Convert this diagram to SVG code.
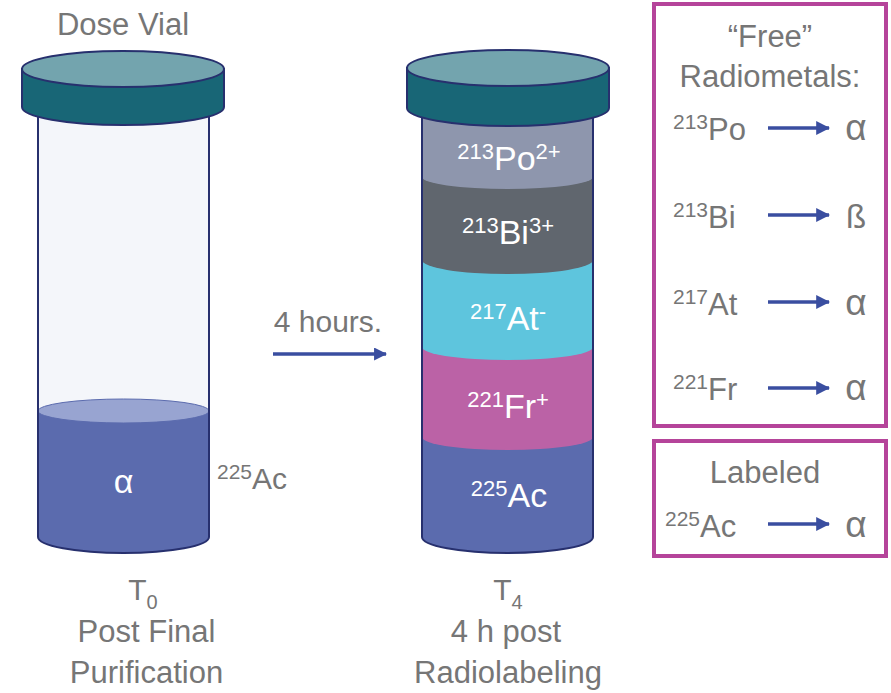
<svg xmlns="http://www.w3.org/2000/svg" width="891" height="693" viewBox="0 0 891 693">
  <defs>
    <style>
      .lbl { font-family: "Liberation Sans", Arial, sans-serif; fill: #767676; }
      .wht { font-family: "Liberation Sans", Arial, sans-serif; fill: #ffffff; }
      .edge { fill: none; stroke: #27306e; stroke-width: 2; }
      .capband { fill: #186676; stroke: #27306e; stroke-width: 2; }
      .captop { fill: #73a4ae; stroke: #27306e; stroke-width: 2; }
      .box { fill: #ffffff; stroke: #b5449a; stroke-width: 4; }
      .arr { stroke: #3a4ea0; stroke-width: 3.5; fill: none; }
    </style>
    <marker id="head" viewBox="0 0 12 12" refX="11" refY="6" markerWidth="13" markerHeight="13" markerUnits="userSpaceOnUse" orient="auto">
      <path d="M0,0 L12,6 L0,12 Z" fill="#3a4ea0"/>
    </marker>
    <marker id="headS" viewBox="0 0 12 12" refX="11" refY="6" markerWidth="14" markerHeight="14" markerUnits="userSpaceOnUse" orient="auto">
      <path d="M0,0 L12,6 L0,12 Z" fill="#3a4ea0"/>
    </marker>
  </defs>

  <rect width="891" height="693" fill="#ffffff"/>

  <!-- T0 vial -->
  <g id="vial-t0">
    <text class="lbl" x="123" y="35" font-size="31" text-anchor="middle">Dose Vial</text>
    <path d="M38,100 L38,537 A85.5,16 0 0 0 209,537 L209,100 Z" fill="#f4f6fa"/>
    <path d="M38,411 L38,537 A85.5,16 0 0 0 209,537 L209,411 Z" fill="#5b6bae"/>
    <ellipse cx="123.5" cy="411" rx="85.5" ry="12" fill="#98a4d1" stroke="#5b6bae" stroke-width="1"/>
    <path class="edge" d="M38,100 L38,537 A85.5,16 0 0 0 209,537 L209,100"/>
    <path class="capband" d="M22,69 L22,107 A101,18 0 0 0 224,107 L224,69 Z"/>
    <ellipse class="captop" cx="123" cy="69" rx="101" ry="18"/>
    <text class="wht" x="123.5" y="493" font-size="34" text-anchor="middle">α</text>
    <text class="lbl" x="217" y="489" font-size="30"><tspan font-size="21" dy="-10">225</tspan><tspan dy="10">Ac</tspan></text>
    <text class="lbl" x="143" y="600" font-size="30" text-anchor="middle">T<tspan font-size="20" dy="9">0</tspan></text>
    <text class="lbl" x="146.5" y="642" font-size="31" text-anchor="middle">Post Final</text>
    <text class="lbl" x="146.5" y="683" font-size="31" text-anchor="middle">Purification</text>
  </g>

  <!-- T4 vial with decay layers -->
  <g id="vial-t4">
    <path d="M422,437 L422,537 A85.5,16 0 0 0 593,537 L593,437 Z" fill="#5b6bae"/>
    <path d="M422,347 L422,437 A85.5,13 0 0 0 593,437 L593,347 Z" fill="#bb62a6"/>
    <path d="M422,260 L422,347 A85.5,13 0 0 0 593,347 L593,260 Z" fill="#5ec5dd"/>
    <path d="M422,177 L422,260 A85.5,14 0 0 0 593,260 L593,177 Z" fill="#60666e"/>
    <path d="M422,100 L422,177 A85.5,12 0 0 0 593,177 L593,100 Z" fill="#8e96ad"/>
    <path class="edge" d="M422,100 L422,537 A85.5,16 0 0 0 593,537 L593,100"/>
    <path class="capband" d="M407,68 L407,108 A101,18 0 0 0 609,108 L609,68 Z"/>
    <ellipse class="captop" cx="508" cy="68" rx="101" ry="18"/>
    <text class="wht" x="509" y="170" font-size="34" text-anchor="middle"><tspan font-size="22" dy="-11">213</tspan><tspan dy="11">Po</tspan><tspan font-size="22" dy="-11">2+</tspan></text>
    <text class="wht" x="508" y="244" font-size="34" text-anchor="middle"><tspan font-size="22" dy="-11">213</tspan><tspan dy="11">Bi</tspan><tspan font-size="22" dy="-11">3+</tspan></text>
    <text class="wht" x="508" y="330" font-size="34" text-anchor="middle"><tspan font-size="22" dy="-11">217</tspan><tspan dy="11">At</tspan><tspan font-size="22" dy="-11">-</tspan></text>
    <text class="wht" x="508" y="418" font-size="34" text-anchor="middle"><tspan font-size="22" dy="-11">221</tspan><tspan dy="11">Fr</tspan><tspan font-size="22" dy="-11">+</tspan></text>
    <text class="wht" x="509" y="507" font-size="34" text-anchor="middle"><tspan font-size="22" dy="-11">225</tspan><tspan dy="11">Ac</tspan></text>
    <text class="lbl" x="508" y="600" font-size="30" text-anchor="middle">T<tspan font-size="20" dy="9">4</tspan></text>
    <text class="lbl" x="506" y="642" font-size="31" text-anchor="middle">4 h post</text>
    <text class="lbl" x="508" y="683" font-size="31" text-anchor="middle">Radiolabeling</text>
  </g>

  <!-- "Free" radiometals legend -->
  <g id="free-box">
    <rect class="box" x="654" y="4" width="232" height="422"/>
    <text class="lbl" x="770" y="47" font-size="31" text-anchor="middle">“Free”</text>
    <text class="lbl" x="770" y="87" font-size="31" text-anchor="middle">Radiometals:</text>
    <text class="lbl" x="673" y="140" font-size="31"><tspan font-size="21" dy="-11">213</tspan><tspan dy="11">Po</tspan></text>
    <text class="lbl" x="673" y="228" font-size="31"><tspan font-size="21" dy="-11">213</tspan><tspan dy="11">Bi</tspan></text>
    <text class="lbl" x="673" y="315" font-size="31"><tspan font-size="21" dy="-11">217</tspan><tspan dy="11">At</tspan></text>
    <text class="lbl" x="673" y="400" font-size="31"><tspan font-size="21" dy="-11">221</tspan><tspan dy="11">Fr</tspan></text>
    <text class="lbl" x="856" y="140" font-size="37" text-anchor="middle">α</text>
    <text class="lbl" x="856" y="228" font-size="33" text-anchor="middle">ß</text>
    <text class="lbl" x="856" y="315" font-size="37" text-anchor="middle">α</text>
    <text class="lbl" x="856" y="400" font-size="37" text-anchor="middle">α</text>
  </g>

  <!-- Labeled legend -->
  <g id="labeled-box">
    <rect class="box" x="654" y="441" width="232" height="115"/>
    <text class="lbl" x="765" y="483" font-size="31" text-anchor="middle">Labeled</text>
    <text class="lbl" x="665" y="537" font-size="31"><tspan font-size="21" dy="-11">225</tspan><tspan dy="11">Ac</tspan></text>
    <text class="lbl" x="856" y="537" font-size="37" text-anchor="middle">α</text>
  </g>

  <!-- time step label -->
  <g id="time-label">
    <text class="lbl" x="328" y="332" font-size="30" text-anchor="middle">4 hours.</text>
  </g>

  <!-- connectors -->
  <g id="connectors">
    <line class="arr" x1="273" y1="354" x2="386" y2="354" marker-end="url(#head)"/>
    <line class="arr" x1="768" y1="128" x2="829" y2="128" marker-end="url(#headS)"/>
    <line class="arr" x1="768" y1="215" x2="829" y2="215" marker-end="url(#headS)"/>
    <line class="arr" x1="768" y1="302" x2="829" y2="302" marker-end="url(#headS)"/>
    <line class="arr" x1="768" y1="388" x2="829" y2="388" marker-end="url(#headS)"/>
    <line class="arr" x1="768" y1="524" x2="829" y2="524" marker-end="url(#headS)"/>
  </g>
</svg>
